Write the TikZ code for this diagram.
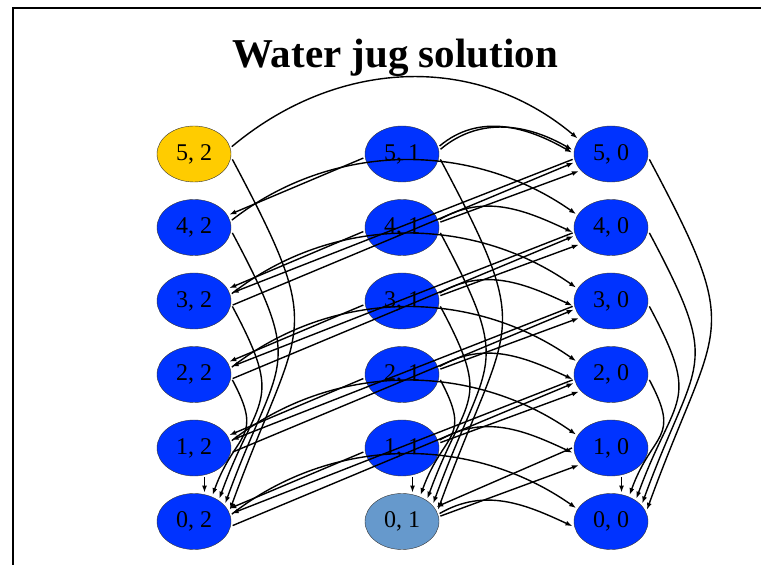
\documentclass[tikz,border=0pt]{standalone}
\usepackage{fontspec}
\setmainfont{Liberation Serif}
\usetikzlibrary{arrows.meta}
\usetikzlibrary{shapes.geometric}

\definecolor{jugblue}{HTML}{0033FF}
\definecolor{jugyellow}{HTML}{FFCC00}
\definecolor{jugsteel}{HTML}{6699CC}

\begin{document}
\begin{tikzpicture}[x=1pt,y=1pt,
  state/.style={ellipse,draw=black!80,thin,minimum width=74pt,minimum height=56pt,inner sep=0pt,outer sep=2pt,font=\fontsize{24}{28}\selectfont},
  move/.style={line width=1.4pt,-{Latex[length=7pt,width=5pt]}},
  dump/.style={move,out=-62,in=70,looseness=1.5},
  spill/.style={move,out=38,in=145,looseness=0.95},
  tip/.style={move,out=30,in=155}]
\useasboundingbox (0,0) rectangle (761,565);
\draw[line width=1.5pt] (13,0) -- (13,557) -- (761,557);
\node[anchor=base,font=\fontsize{41}{45}\selectfont\bfseries] (title) at (395,497) {Water jug solution};

% states (a,b), one column per b
\foreach \b/\x in {2/194,1/402,0/611}
  \foreach \a in {0,...,5} {
    \def\paint{jugblue}
    \ifnum\a\b=52 \def\paint{jugyellow}\fi
    \ifnum\a\b=1 \def\paint{jugsteel}\fi
    \node[state,fill=\paint] (s\a\b) at (\x,43.5+73.5*\a) {\a, \b};
  }

% empty the big jug
\foreach \b in {0,1,2} {
  \draw[move] (s1\b.-70) -- (s0\b.70);
  \foreach \a/\e in {2/55,3/42,4/30,5/18}
    \draw[dump] (s\a\b.-8) to (s0\b.\e);
}

% empty the small jug
\draw[move] (s52.11) to[out=40,in=140] (s50.155);
\foreach \a in {0,...,4} {
  \draw[spill] (s\a2.11) to (s\a0.159);
  \draw[tip] (s\a1.12) to (s\a0.187);
}
\draw[tip,out=40,in=150] (s51.12) to (s50.178);
\draw[tip,out=40,in=150] (s51.7) to (s50.174);

% pour one jug into the other
\foreach \a/\c in {0/2,1/3,2/4,3/5} {
  \draw[move] (s\a2.-6) -- (s\c0.193);
  \draw[move] (s\c0.188) -- (s\a2.12);
}
\foreach \a/\c in {0/1,1/2,2/3,3/4,4/5}
  \draw[move] (s\a1.8) -- (s\c0.208);
\foreach \a/\c in {1/0,2/1,3/2,4/3,5/4}
  \draw[move] (s\a1.186) -- (s\c2.20);
\draw[move] (s10.180) -- (s01.23);

\end{tikzpicture}
\end{document}
